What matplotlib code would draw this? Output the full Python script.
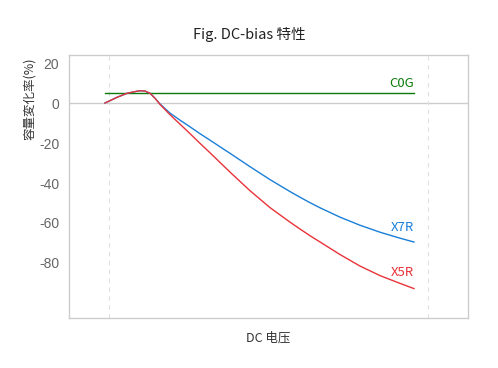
import matplotlib.pyplot as plt

plt.rcParams['font.family'] = ['Noto Sans CJK SC', 'DejaVu Sans']

# DC voltage (arbitrary units 0..10) and capacitance change (%)
volts = [0, 0.39, 0.71, 0.91, 1.13, 1.29, 1.46, 1.62, 1.78, 2.10, 2.43, 2.75, 3.07, 3.40,
         4.05, 4.69, 5.34, 5.99, 6.31, 6.63, 6.96, 7.61, 8.25, 8.90, 9.55, 10]
x7r = [0, 2.85, 4.85, 5.5, 6.15, 6.0, 4.85, 2.35, -0.5, -5.0, -8.6, -11.9, -15.3, -18.6,
       -25.2, -31.8, -38.3, -44.3, -47.1, -49.8, -52.4, -57.1, -61.1, -64.6, -67.6, -69.5]
x5r = [0, 2.85, 4.85, 5.5, 6.15, 6.0, 4.85, 2.35, -0.7, -5.8, -10.6, -15.3, -20.1, -24.9,
       -34.6, -43.8, -52.3, -59.6, -63.0, -66.3, -69.5, -75.8, -81.5, -86.3, -90.2, -92.8]
c0g_x = [0, 10]
c0g = [5, 5]

yticks = [20, 0, -20, -40, -60, -80]

fig = plt.figure(figsize=(4.98, 3.68), dpi=100)
ax = fig.add_axes([0.1386, 0.1359, 0.8012, 0.7146])

ax.set_xlim(-1.165, 11.75)
ax.set_ylim(-107.5, 24)

# grid
ax.axhline(0, color='#cccccc', lw=1, zorder=1)
for gx in [0.13, 10.45]:
    ax.axvline(gx, color='#e0e0e0', lw=0.8, ls=(0, (4, 4)), zorder=1)

ax.plot(c0g_x, c0g, color='#0a7a0a', lw=1, zorder=3)
ax.plot(volts, x7r, color='#1a7fd8', lw=1, zorder=3, solid_joinstyle='round')
ax.plot(volts, x5r, color='#e8333a', lw=1, zorder=4, solid_joinstyle='round')

ax.text(10, 6.5, 'C0G', color='#0a7a0a', ha='right', va='bottom', fontsize=9.5)
ax.text(10, -65.5, 'X7R', color='#1a7fd8', ha='right', va='bottom', fontsize=9.5)
ax.text(10, -88, 'X5R', color='#e8333a', ha='right', va='bottom', fontsize=9.5)

ax.set_yticks(yticks)
ax.set_yticklabels([str(t) for t in yticks], color='#666666', fontsize=10,
                   family=['Liberation Sans', 'DejaVu Sans'])
ax.set_xticks([])
ax.tick_params(axis='y', length=0, pad=7)

for s in ax.spines.values():
    s.set_color('#cccccc')
    s.set_linewidth(1)

fig.text(30 / 498, 1 - 98.5 / 368, '容量変化率(%)', rotation=90, ha='center', va='center',
         fontsize=9, color='#333333', family=['Noto Sans CJK JP', 'DejaVu Sans'])
ax.set_xlabel('DC 电压', fontsize=9, color='#333333', labelpad=9.5)
fig.text(0.5, 0.905, 'Fig. DC-bias 特性', ha='center', va='center', fontsize=10.5, color='#222222')

fig.savefig('out.png', dpi=100)
